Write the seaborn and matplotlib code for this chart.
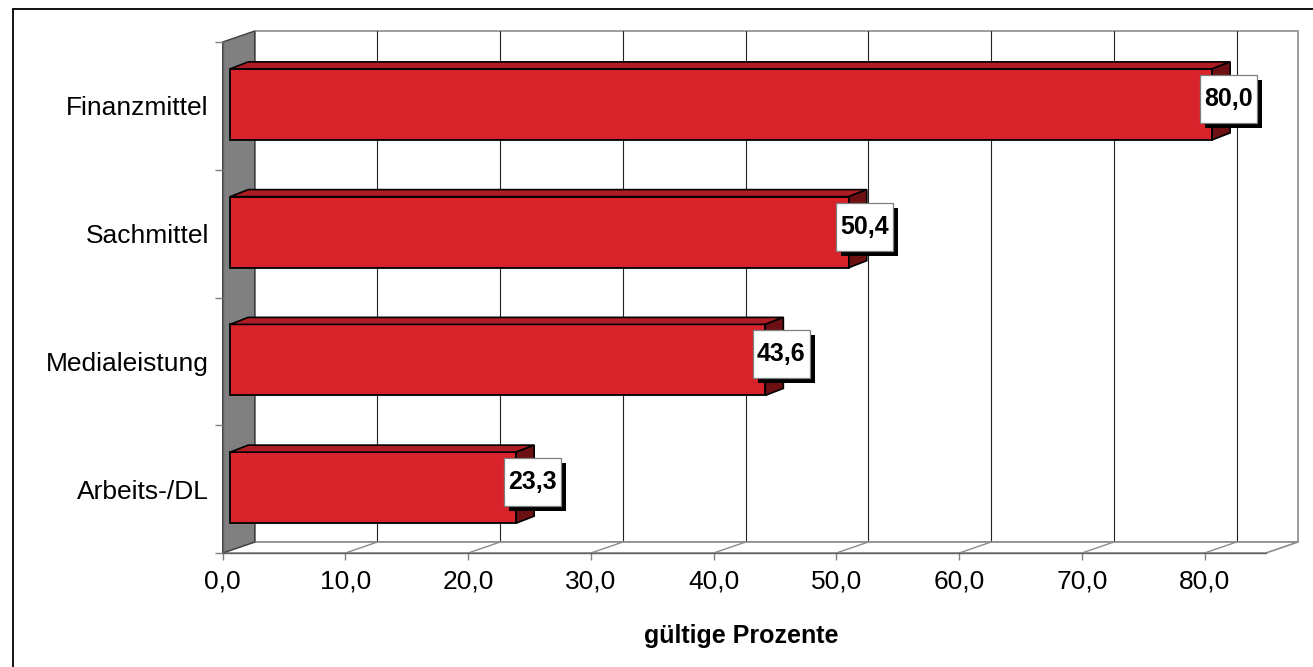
import numpy as np
import pandas as pd
import matplotlib
matplotlib.use('Agg')
import matplotlib.pyplot as plt
import seaborn as sns
from matplotlib.patches import Polygon, Rectangle
from matplotlib.lines import Line2D
from matplotlib.transforms import IdentityTransform, ScaledTranslation

categories = ['Finanzmittel', 'Sachmittel', 'Medialeistung', 'Arbeits-/DL']
values = [80.0, 50.4, 43.6, 23.3]
x_ticks = [0, 10, 20, 30, 40, 50, 60, 70, 80]
x_label = 'gültige Prozente'

sns.set_style('white')
plt.rcParams['font.family'] = ['Liberation Sans', 'DejaVu Sans']
plt.rcParams['text.color'] = 'black'
plt.rcParams['axes.labelcolor'] = 'black'
plt.rcParams['xtick.labelcolor'] = 'black'
plt.rcParams['ytick.labelcolor'] = 'black'

W, H = 1313, 667
fig = plt.figure(figsize=(W / 100, H / 100), dpi=100)
ax = fig.add_axes([222.7 / W, (H - 553) / H, (1266 - 222.7) / W, 511 / H])
ax.set_facecolor('none')

df = pd.DataFrame({'Kategorie': categories, 'Prozent': values})
sns.barplot(data=df, x='Prozent', y='Kategorie', orient='h', color='#d9232a',
            saturation=1, width=0.556, edgecolor='black', linewidth=1.3,
            ax=ax, zorder=3)
ax.set_xlim(0, 85)
ax.set_ylim(3.5, -0.5)

# depth offsets (pixels) for the fake 3d look
DX, DY = 32, 11        # walls
BX, BY = 18, 7         # bar depth
SX, SY = 7.5, 1.5      # bars sit a bit behind the front plane

idt = IdentityTransform()


def px(x, y):
    return np.array(ax.transData.transform((x, y)))


def poly(pts, **kw):
    p = Polygon(pts, closed=True, transform=idt, clip_on=False, **kw)
    ax.add_artist(p)
    return p


# walls
bl, br = px(0, 3.5), px(85, 3.5)
tl, tr = px(0, -0.5), px(85, -0.5)
d = np.array([DX, DY])
poly([bl + d, br + d, tr + d, tl + d], facecolor='white', edgecolor='#8c8c8c', lw=1.2, zorder=0.2)
poly([bl, br, br + d, bl + d], facecolor='white', edgecolor='#8c8c8c', lw=1.2, zorder=0.4)
poly([bl, bl + d, tl + d, tl], facecolor='#808080', edgecolor='#404040', lw=1, zorder=0.5)

for v in x_ticks[1:]:
    b = px(v, 3.5)
    t = px(v, -0.5)
    ax.add_artist(Line2D([b[0] + DX, t[0] + DX], [b[1] + DY, t[1] + DY], transform=idt,
                         color='#222222', lw=0.8, clip_on=False, zorder=0.3))
    ax.add_artist(Line2D([b[0], b[0] + DX], [b[1], b[1] + DY], transform=idt,
                         color='#8c8c8c', lw=1, clip_on=False, zorder=0.45))

# bars: shift front faces and add top / end faces
shift = ScaledTranslation(SX / 100, SY / 100, fig.dpi_scale_trans)
bd = np.array([BX, BY])
s = np.array([SX, SY])
for patch, val in zip(ax.patches, values):
    x0, y0, w, h = patch.get_x(), patch.get_y(), patch.get_width(), patch.get_height()
    patch.set_transform(ax.transData + shift)
    ptl = px(x0, y0) + s
    ptr = px(x0 + w, y0) + s
    pbr = px(x0 + w, y0 + h) + s
    poly([ptl, ptr, ptr + bd, ptl + bd], facecolor='#ad1d23', edgecolor='black', lw=1.2, zorder=3)
    poly([ptr, pbr, pbr + bd, ptr + bd], facecolor='#6c1014', edgecolor='black', lw=1.2, zorder=3)

    c = px(val, y0 + h / 2) + np.array([23.5, 7])
    bw, bh = 57, 48
    ax.add_artist(Rectangle((c[0] - bw / 2 + 5, c[1] - bh / 2 - 5), bw, bh, transform=idt,
                            facecolor='black', edgecolor='none', clip_on=False, zorder=4))
    ax.add_artist(Rectangle((c[0] - bw / 2, c[1] - bh / 2), bw, bh, transform=idt,
                            facecolor='white', edgecolor='#7f7f7f', lw=0.9, clip_on=False, zorder=4.1))
    ax.text(c[0], c[1], f'{val:.1f}'.replace('.', ','), transform=idt, ha='center', va='center',
            fontsize=18, fontweight='bold', color='black', zorder=4.2, clip_on=False)

# axes, ticks, labels
sns.despine(ax=ax, top=True, right=True)
for side in ['left', 'bottom']:
    ax.spines[side].set_color('#606060')
    ax.spines[side].set_linewidth(1)
    ax.spines[side].set_zorder(0.6)

ax.set_xticks(x_ticks)
ax.set_xticklabels([f'{v:.1f}'.replace('.', ',') for v in x_ticks])
ax.set_yticks(range(len(categories)))
ax.set_yticklabels(categories)
ax.set_yticks(np.arange(-0.5, len(categories), 1.0), minor=True)
ax.tick_params(axis='x', which='major', bottom=True, length=5, width=1, color='#808080',
               labelsize=19, pad=7, labelcolor='black')
ax.tick_params(axis='y', which='major', left=True, length=0, labelsize=19, pad=10, labelcolor='black')
ax.tick_params(axis='y', which='minor', left=True, length=6, width=1, color='#808080')
ax.set_ylabel('')
ax.set_xlabel(x_label, fontsize=18, fontweight='bold', color='black')
ax.xaxis.set_label_coords(0.497, -0.138)

# outer frame (only top and left edges visible in the original)
fig.add_artist(Line2D([13 / W, 1], [1 - 9 / H, 1 - 9 / H], transform=fig.transFigure, color='black', lw=1.3))
fig.add_artist(Line2D([13 / W, 13 / W], [0, 1 - 9 / H], transform=fig.transFigure, color='black', lw=1.3))

fig.savefig('out.png', dpi=100)
